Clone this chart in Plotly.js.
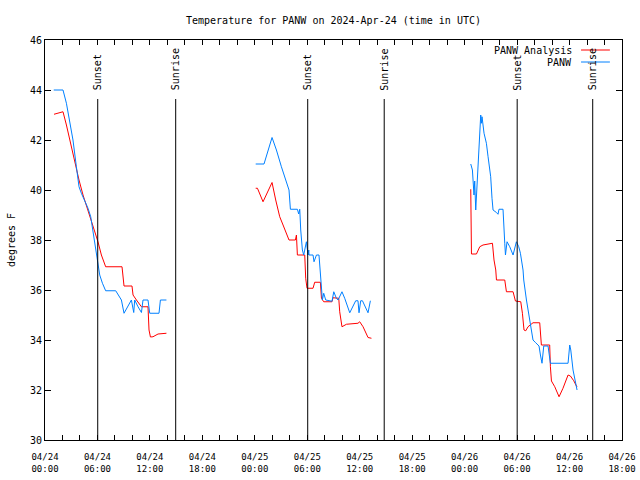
<!DOCTYPE html>
<html>
<head>
<meta charset="utf-8">
<script src="https://cdn.plot.ly/plotly-3.0.1.min.js"></script>
<style>html,body{margin:0;padding:0;background:#fff;}#chart{width:640px;height:480px;}</style>
</head>
<body>
<div id="chart"></div>
<script>
// Hours since 2024-04-24 00:00 UTC; null separates the three daily runs
const analysisHours = [
  1.03, 2.06, 2.45, 3.02, 3.51, 3.89, 4.35, 5.11, 6.06, 6.45, 6.94, 8.81, 9.04, 9.95, 10.07, 10.46, 11.03, 11.78, 11.90, 12.06, 12.35, 12.93, 13.89,
  null,
  24.10, 24.30, 24.94, 25.97, 26.39, 26.85, 27.23, 27.61, 27.91, 28.64, 28.76, 28.87, 29.71, 29.82, 29.97, 30.66, 30.85, 31.50, 31.62, 31.88, 32.83, 32.94, 33.60, 33.71, 33.97, 34.48, 35.80, 36.00, 36.38, 36.95, 37.34,
  null,
  48.70, 48.78, 49.35, 49.73, 50.10, 50.87, 51.18, 51.36, 51.56, 51.64, 52.59, 52.78, 53.54, 53.81, 54.42, 54.61, 54.79, 54.99, 55.25, 55.82, 56.59, 56.78, 57.73, 57.81, 57.93, 58.31, 58.80, 59.25, 59.83, 60.10, 60.48, 60.79, 60.86
];
const analysisTemps = [
  43.03, 43.13, 42.6, 41.73, 40.88, 40.4, 39.8, 39.0, 37.93, 37.4, 36.93, 36.93, 36.16, 36.16, 35.8, 35.6, 35.33, 35.33, 34.4, 34.12, 34.13, 34.24, 34.27,
  null,
  40.07, 40.07, 39.53, 40.3, 39.6, 38.93, 38.6, 38.27, 38.0, 38.0, 38.2, 37.4, 37.4, 36.47, 36.07, 36.07, 36.31, 36.31, 35.67, 35.53, 35.53, 35.69, 35.67, 35.13, 34.53, 34.63, 34.67, 34.73, 34.53, 34.1, 34.07,
  null,
  40.03, 37.44, 37.44, 37.73, 37.8, 37.87, 37.87, 37.2, 36.8, 36.4, 36.4, 35.93, 35.93, 35.56, 35.53, 35.07, 34.4, 34.37, 34.53, 34.69, 34.69, 33.8, 33.8, 32.93, 32.36, 32.13, 31.73, 32.07, 32.6, 32.56, 32.37, 32.16, 32.13
];
const obsHours = [
  1.00, 2.06, 2.45, 2.83, 3.20, 3.59, 3.89, 4.16, 4.54, 4.92, 5.23, 5.49, 5.69, 5.88, 6.06, 6.26, 6.57, 6.94, 8.09, 8.74, 9.04, 9.88, 10.15, 10.26, 10.64, 11.03, 11.21, 11.78, 11.98, 13.04, 13.20, 13.89,
  null,
  24.10, 25.05, 25.97, 26.47, 27.04, 27.61, 27.91, 28.07, 28.87, 29.02, 29.14, 29.25, 29.44, 29.59, 29.90, 30.09, 30.17, 30.20, 30.66, 30.77, 31.05, 31.34, 31.50, 31.62, 31.73, 31.88, 32.11, 32.83, 33.03, 33.33, 33.52, 33.97, 34.28, 34.86, 35.54, 35.80, 35.92, 36.11, 36.31, 36.95, 37.22,
  null,
  48.70, 48.89, 49.07, 49.15, 49.27, 49.53, 49.73, 49.84, 49.92, 49.99, 50.22, 50.49, 50.68, 50.98, 51.13, 51.25, 51.64, 51.82, 51.93, 52.39, 52.59, 52.67, 52.85, 53.16, 53.54, 53.92, 54.19, 54.38, 54.68, 54.76, 55.07, 55.33, 55.53, 55.82, 56.13, 56.51, 56.67, 56.85, 57.05, 57.54, 57.81, 59.83, 60.02, 60.14, 60.40, 60.71, 60.86
];
const obsTemps = [
  44.0, 44.0, 43.47, 42.67, 42.0, 40.93, 40.13, 39.87, 39.6, 39.27, 38.93, 38.33, 37.87, 37.33, 36.93, 36.6, 36.27, 35.97, 35.97, 35.6, 35.07, 35.6, 35.1, 35.6, 35.33, 35.1, 35.6, 35.6, 35.07, 35.07, 35.6, 35.6,
  null,
  41.04, 41.04, 42.1, 41.6, 40.93, 40.33, 40.0, 39.23, 39.23, 39.04, 39.23, 38.4, 37.6, 37.4, 37.93, 37.4, 37.6, 37.4, 37.4, 37.13, 37.4, 37.4, 36.67, 35.93, 35.6, 35.87, 35.6, 35.55, 35.93, 35.67, 35.6, 35.93, 35.67, 35.09, 35.57, 35.57, 35.09, 35.57, 35.57, 35.09, 35.57,
  null,
  41.04, 40.8, 39.8, 40.36, 39.2, 41.07, 42.6, 43.0, 42.67, 42.93, 42.27, 41.87, 41.33, 40.53, 39.67, 39.2, 39.1, 39.03, 39.23, 39.23, 37.87, 37.4, 37.93, 37.73, 37.4, 37.93, 37.73, 37.47, 36.8, 36.4, 35.6, 35.0, 34.6, 34.0, 33.89, 33.76, 33.4, 33.07, 33.76, 33.76, 33.07, 33.07, 33.8, 33.6, 32.8, 32.2, 32.0
];
const sunsetHours = [6.03, 30.05, 54.01];
const sunriseHours = [14.95, 38.80, 62.65];
const seriesNames = ['PANW Analysis', 'PANW'];
const seriesColors = ['#ff0000', '#0080ff'];
const chartTitle = 'Temperature for PANW on 2024-Apr-24 (time in UTC)';

const base = Date.UTC(2024, 3, 24);
function toDate(h) {
  if (h === null) return null;
  const d = new Date(base + Math.round(h * 3600000));
  return d.toISOString().slice(0, 19).replace('T', ' ');
}

const mono = 'DejaVu Sans Mono, monospace';
const traces = [
  {x: analysisHours.map(toDate), y: analysisTemps, name: seriesNames[0], mode: 'lines',
   line: {color: seriesColors[0], width: 1}, connectgaps: false},
  {x: obsHours.map(toDate), y: obsTemps, name: seriesNames[1], mode: 'lines',
   line: {color: seriesColors[1], width: 1}, connectgaps: false}
];

const shapes = [];
const annotations = [];
function marker(h, label) {
  shapes.push({type: 'line', xref: 'x', yref: 'y', x0: toDate(h), x1: toDate(h), y0: 30, y1: 43.64,
               line: {color: '#000', width: 1}});
  annotations.push({xref: 'x', yref: 'y', x: toDate(h), y: 43.9, text: label, textangle: -90,
                    showarrow: false, xanchor: 'center', yanchor: 'bottom',
                    font: {family: mono, size: 10, color: '#000'}});
}
sunsetHours.forEach(h => marker(h, 'Sunset'));
sunriseHours.forEach(h => marker(h, 'Sunrise'));

// legend (gnuplot style: text right-aligned, sample on the right)
const legY = [0.975, 0.945];
seriesNames.forEach((n, i) => {
  annotations.push({xref: 'paper', yref: 'paper', x: 0.917, y: legY[i], text: n, showarrow: false,
                    xanchor: 'right', yanchor: 'middle', font: {family: mono, size: 10, color: '#000'}});
  shapes.push({type: 'line', xref: 'paper', yref: 'paper', x0: 0.929, x1: 0.979, y0: legY[i], y1: legY[i],
               line: {color: seriesColors[i], width: 1}});
});

const layout = {
  width: 640, height: 480,
  margin: {l: 45, r: 18, t: 40, b: 40},
  paper_bgcolor: '#fff', plot_bgcolor: '#fff',
  showlegend: false,
  font: {family: mono, size: 10, color: '#000'},
  title: {text: chartTitle, x: 0.5, xref: 'paper', y: 0.958, yanchor: 'middle', yref: 'container',
          font: {family: mono, size: 10, color: '#000'}},
  xaxis: {type: 'date', range: ['2024-04-24 00:00', '2024-04-26 18:00'],
          tick0: '2024-04-24 00:00', dtick: 6 * 3600000, tickformat: '%m/%d<br>%H:%M',
          ticks: 'inside', ticklen: 5, tickcolor: '#000', showgrid: false, zeroline: false,
          showline: true, linecolor: '#000', linewidth: 1, mirror: 'allticks',
          ticklabelstandoff: 8, automargin: false,
          minor: {dtick: 2 * 3600000, ticks: 'inside', ticklen: 5, tickcolor: '#000', showgrid: false},
          tickfont: {family: mono, size: 9, color: '#000'}},
  yaxis: {range: [30, 46], dtick: 2, ticks: 'inside', ticklen: 6, tickcolor: '#000',
          showgrid: false, zeroline: false, showline: true, linecolor: '#000', linewidth: 1,
          mirror: 'allticks', tickfont: {family: mono, size: 10, color: '#000'}, automargin: false,
          title: {text: 'degrees F', standoff: 12, font: {family: mono, size: 10, color: '#000'}}},
  shapes: shapes,
  annotations: annotations
};

Plotly.newPlot('chart', traces, layout, {displayModeBar: false, staticPlot: true});
</script>
</body>
</html>
